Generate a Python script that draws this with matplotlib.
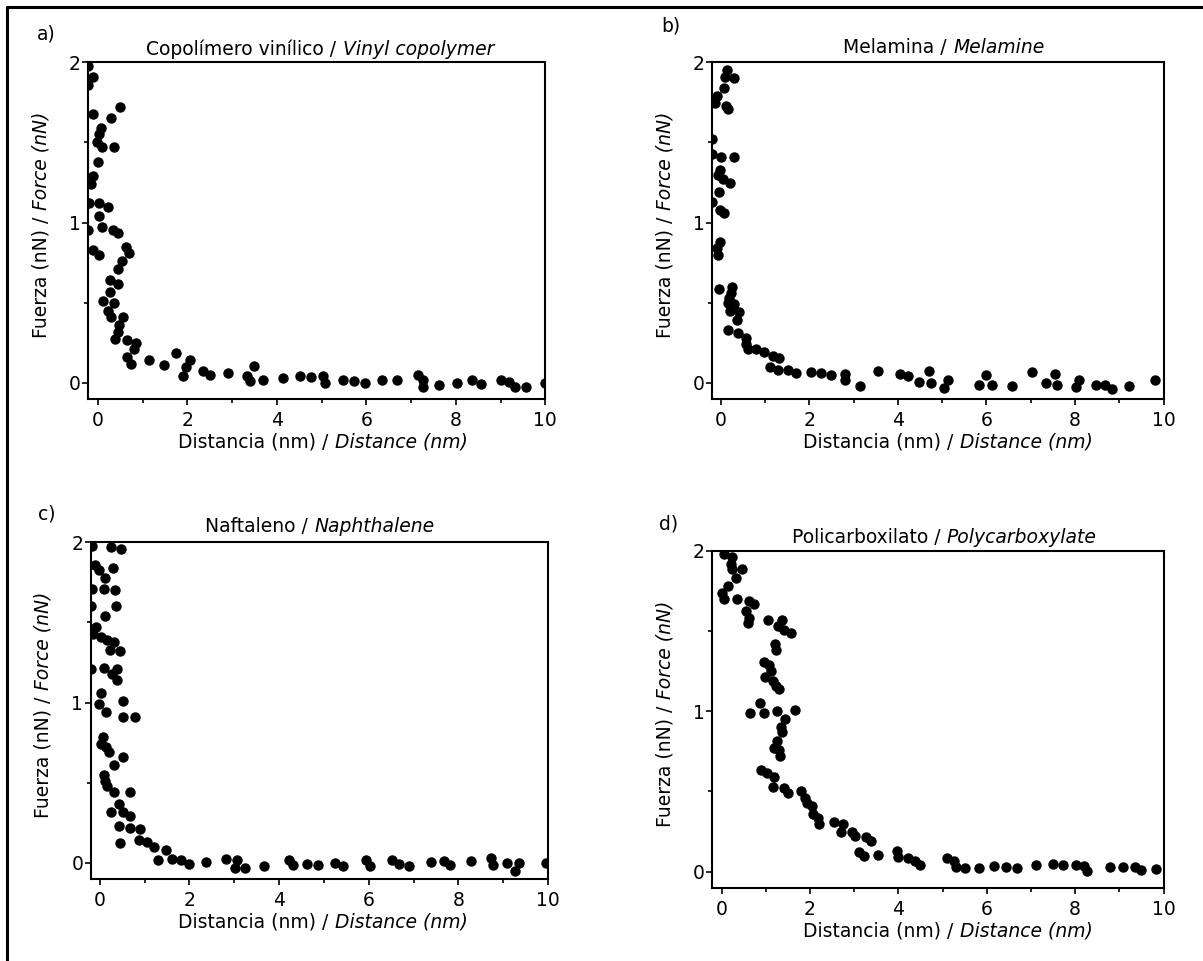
import matplotlib
matplotlib.use("Agg")
import matplotlib.pyplot as plt
from matplotlib.font_manager import FontProperties
from matplotlib.lines import Line2D
from matplotlib.ticker import MultipleLocator

W, H = 1203, 961
FONT_SIZE = 13.5

plt.rcParams["font.family"] = ["DejaVu Sans"]
plt.rcParams["font.size"] = FONT_SIZE

# a) Copolímero vinílico / Vinyl copolymer
vinyl_x = [-0.22, -0.22, -0.11, -0.10, 0.29, 0.49, 0.06, 0.02, -0.03, 0.10,
           0.36, 0.0, -0.11, -0.16, -0.20, 0.03, 0.23, 0.03, 0.10, -0.22,
           0.33, 0.44, 0.63, 0.69, -0.11, 0.02, 0.55, 0.46, 0.27, 0.44,
           0.12, 0.35, 0.27, 0.23, 0.29, 0.57, 0.48, 0.46, 0.38, 0.65,
           0.85, 0.80, 0.66, 0.74, 1.15, 1.47, 1.74, 2.07, 1.98, 1.90,
           2.34, 2.50, 2.90, 3.33, 3.50, 3.41, 3.70, 4.14, 4.51, 4.76,
           5.04, 5.08, 5.47, 5.72, 5.96, 6.34, 6.69, 7.16, 7.26, 7.26,
           7.63, 8.02, 8.37, 8.57, 9.0, 9.19, 9.33, 9.57, 10.0]
vinyl_y = [1.98, 1.86, 1.91, 1.675, 1.65, 1.72, 1.59, 1.55, 1.50, 1.47,
           1.47, 1.375, 1.29, 1.24, 1.125, 1.12, 1.10, 1.04, 0.97, 0.956,
           0.956, 0.935, 0.85, 0.81, 0.83, 0.80, 0.76, 0.71, 0.64, 0.62,
           0.51, 0.50, 0.57, 0.45, 0.41, 0.41, 0.36, 0.32, 0.275, 0.27,
           0.25, 0.21, 0.16, 0.12, 0.14, 0.11, 0.185, 0.14, 0.10, 0.046,
           0.077, 0.05, 0.06, 0.046, 0.104, 0.01, 0.015, 0.03, 0.04, 0.035,
           0.04, 0.0, 0.02, 0.01, 0.0, 0.015, 0.02, 0.05, 0.02, -0.027,
           -0.012, 0.0, 0.015, -0.006, 0.015, 0.008, -0.023, -0.027, 0.0]

# b) Melamina / Melamine
melamine_x = [0.14, 0.10, 0.30, 0.07, -0.08, -0.14, 0.12, 0.17, -0.19, -0.19,
              0.01, 0.30, -0.02, -0.05, 0.05, 0.20, -0.03, -0.19, -0.02, 0.07,
              -0.02, -0.08, -0.05, -0.03, 0.25, 0.23, 0.18, 0.16, 0.30, 0.21,
              0.42, 0.36, 0.16, 0.38, 0.56, 0.57, 0.62, 0.79, 0.97, 1.17,
              1.31, 1.12, 1.29, 1.53, 1.71, 2.04, 2.27, 2.49, 2.81, 2.81,
              3.14, 3.55, 4.04, 4.23, 4.47, 4.71, 4.75, 5.04, 5.13, 5.84,
              6.0, 6.13, 6.58, 7.04, 7.35, 7.55, 7.6, 8.02, 8.10, 8.47,
              8.69, 8.83, 9.23, 9.80]
melamine_y = [1.95, 1.91, 1.90, 1.84, 1.79, 1.745, 1.73, 1.71, 1.52, 1.43,
              1.41, 1.41, 1.33, 1.30, 1.27, 1.25, 1.19, 1.13, 1.08, 1.06,
              0.876, 0.84, 0.80, 0.586, 0.60, 0.56, 0.53, 0.50, 0.49, 0.45,
              0.44, 0.39, 0.33, 0.31, 0.28, 0.24, 0.21, 0.21, 0.19, 0.17,
              0.156, 0.10, 0.08, 0.08, 0.06, 0.066, 0.06, 0.05, 0.056, 0.02,
              -0.017, 0.073, 0.058, 0.046, 0.004, 0.073, 0.0, -0.03, 0.017, -0.01,
              0.048, -0.015, -0.02, 0.066, 0.0, 0.058, -0.01, -0.025, 0.02, -0.01,
              -0.015, -0.035, -0.02, 0.015]

# c) Naftaleno / Naphthalene
naphthalene_x = [-0.17, 0.26, 0.47, -0.10, -0.02, 0.30, 0.13, -0.17, 0.09, 0.34,
                 -0.20, 0.36, 0.11, -0.085, -0.15, 0.02, 0.17, 0.32, 0.24, 0.45,
                 -0.20, 0.10, 0.38, 0.27, 0.38, 0.02, -0.02, 0.15, 0.53, 0.53,
                 0.79, 0.07, 0.04, 0.15, 0.21, 0.32, 0.51, 0.10, 0.13, 0.17,
                 0.32, 0.68, 0.44, 0.51, 0.68, 0.26, 0.43, 0.67, 0.91, 0.45,
                 0.87, 1.05, 1.22, 1.30, 1.47, 1.62, 1.82, 1.99, 2.38, 2.82,
                 3.06, 3.01, 3.25, 3.66, 4.23, 4.32, 4.63, 4.87, 5.24, 5.43,
                 5.94, 6.04, 6.52, 6.67, 6.91, 7.39, 7.68, 7.82, 8.29, 8.73,
                 8.77, 9.08, 9.27, 9.36, 9.96]
naphthalene_y = [1.98, 1.97, 1.96, 1.86, 1.83, 1.84, 1.78, 1.71, 1.71, 1.70,
                 1.60, 1.60, 1.54, 1.47, 1.43, 1.41, 1.39, 1.38, 1.33, 1.32,
                 1.21, 1.215, 1.21, 1.18, 1.14, 1.06, 0.99, 0.94, 1.01, 0.91,
                 0.91, 0.785, 0.74, 0.72, 0.69, 0.61, 0.66, 0.55, 0.51, 0.48,
                 0.44, 0.44, 0.37, 0.32, 0.295, 0.32, 0.23, 0.22, 0.21, 0.125,
                 0.145, 0.13, 0.10, 0.02, 0.08, 0.027, 0.017, -0.004, 0.004, 0.025,
                 0.02, -0.03, -0.03, -0.017, 0.02, -0.015, -0.006, -0.015, 0.0, -0.02,
                 0.017, -0.017, 0.017, -0.006, -0.017, 0.006, 0.01, -0.015, 0.01, 0.03,
                 -0.01, 0.0, -0.05, 0.0, 0.0]

# d) Policarboxilato / Polycarboxylate
polycarb_x = [0.05, 0.24, 0.21, 0.24, 0.47, 0.32, 0.15, 0.02, 0.05, 0.34,
              0.62, 0.73, 0.56, 0.62, 0.60, 1.06, 1.37, 1.27, 1.41, 1.56,
              1.21, 1.24, 0.95, 1.08, 1.11, 0.98, 1.17, 1.23, 1.30, 0.88,
              0.65, 0.95, 1.26, 1.67, 1.43, 1.34, 1.37, 1.26, 1.19, 1.30,
              1.32, 0.89, 1.03, 1.19, 1.17, 1.41, 1.50, 1.80, 1.88, 1.93,
              2.04, 2.08, 2.19, 2.20, 2.55, 2.75, 2.71, 2.96, 3.02, 3.26,
              3.39, 3.10, 3.22, 3.54, 3.98, 4.00, 4.22, 4.38, 4.48, 5.11,
              5.27, 5.31, 5.51, 5.83, 6.16, 6.43, 6.68, 7.12, 7.51, 7.72,
              8.01, 8.21, 8.27, 8.78, 9.08, 9.35, 9.49, 9.83]
polycarb_y = [1.98, 1.96, 1.92, 1.885, 1.89, 1.83, 1.78, 1.735, 1.70, 1.70,
              1.69, 1.67, 1.625, 1.585, 1.55, 1.57, 1.57, 1.53, 1.51, 1.49,
              1.42, 1.38, 1.31, 1.29, 1.25, 1.215, 1.19, 1.16, 1.14, 1.05,
              0.99, 0.99, 1.0, 1.006, 0.95, 0.90, 0.87, 0.815, 0.77, 0.76,
              0.72, 0.635, 0.615, 0.59, 0.53, 0.52, 0.49, 0.50, 0.46, 0.43,
              0.41, 0.36, 0.335, 0.30, 0.31, 0.30, 0.25, 0.25, 0.22, 0.215,
              0.19, 0.125, 0.10, 0.104, 0.127, 0.09, 0.083, 0.069, 0.042, 0.083,
              0.069, 0.031, 0.023, 0.023, 0.033, 0.027, 0.023, 0.042, 0.048, 0.042,
              0.044, 0.038, 0.002, 0.027, 0.031, 0.027, 0.010, 0.017]

letters = ["a)", "b)", "c)", "d)"]
titles = [("Copolímero vinílico /", "Vinyl copolymer"),
          ("Melamina /", "Melamine"),
          ("Naftaleno /", "Naphthalene"),
          ("Policarboxilato /", "Polycarboxylate")]
series = [(vinyl_x, vinyl_y), (melamine_x, melamine_y),
          (naphthalene_x, naphthalene_y), (polycarb_x, polycarb_y)]

# pixel layout of each panel: left, right, top of the box, xmin
boxes = [(88.0, 545.3, 62.3, -0.22),
         (712.3, 1163.5, 62.3, -0.19),
         (90.7, 548.0, 542.3, -0.2),
         (712.3, 1163.5, 551.0, -0.21)]
PX_PER_NN = 160.3
# text anchors (pixels from top-left): letter, title centre/baseline, xlabel centre
letter_pos = [(37, 39), (661, 32), (38, 519), (659, 529)]
title_pos = [(320, 55), (944, 53), (320, 532), (944, 543)]
xlabel_cx = [323, 948, 323, 948]


def draw_parts(fig, x, y, parts, rotation=0):
    # upright + italic text run centred on x (horizontal) or y (rotated)
    renderer = fig.canvas.get_renderer()
    gap = 0.34 * FONT_SIZE * fig.dpi / 72
    lengths = []
    for s, style in parts:
        prop = FontProperties(family="DejaVu Sans", style=style, size=FONT_SIZE)
        w, _, _ = renderer.get_text_width_height_descent(s, prop, ismath=False)
        lengths.append(w)
    total = sum(lengths) + gap * (len(parts) - 1)
    pos = -total / 2
    for (s, style), w in zip(parts, lengths):
        if rotation == 0:
            px, py = x + pos, H - y
        else:
            px, py = x, (H - y) + pos
        fig.text(px / W, py / H, s, style=style, size=FONT_SIZE, ha="left",
                 va="baseline", rotation=rotation, rotation_mode="anchor")
        pos += w + gap


fig = plt.figure(figsize=(W / 100, H / 100), dpi=100)

for k, (xs, ys) in enumerate(series):
    left, right, top, xmin = boxes[k]
    bottom = top + 2.1 * PX_PER_NN
    ax = fig.add_axes([left / W, (H - bottom) / H, (right - left) / W, (bottom - top) / H])
    ax.plot(xs, ys, "o", color="black", markersize=7.5, markeredgewidth=0)
    ax.set_xlim(xmin, 10)
    ax.set_ylim(-0.1, 2.0)
    ax.xaxis.set_major_locator(MultipleLocator(2))
    ax.xaxis.set_minor_locator(MultipleLocator(1))
    ax.yaxis.set_major_locator(MultipleLocator(1))
    ax.yaxis.set_minor_locator(MultipleLocator(0.5))
    ax.tick_params(which="both", direction="out", width=1.2, labelsize=FONT_SIZE)
    ax.tick_params(which="major", length=4.3)
    ax.tick_params(which="minor", length=2.8)
    ax.tick_params(axis="x", pad=4.5)
    ax.tick_params(axis="y", pad=1.0)
    for sp in ax.spines.values():
        sp.set_linewidth(1.5)

    fig.text(letter_pos[k][0] / W, 1 - letter_pos[k][1] / H, letters[k],
             size=FONT_SIZE, ha="left", va="baseline")
    draw_parts(fig, title_pos[k][0], title_pos[k][1],
               [(titles[k][0], "normal"), (titles[k][1], "italic")])
    draw_parts(fig, xlabel_cx[k], bottom + 48.5,
               [("Distancia (nm) /", "normal"), ("Distance (nm)", "italic")])
    draw_parts(fig, left - 42, (top + bottom) / 2 - 5.5,
               [("Fuerza (nN) /", "normal"), ("Force (nN)", "italic")], rotation=90)

# outer frame (only the top and left edges are visible)
fig.add_artist(Line2D([6.5 / W, 6.5 / W, 1.0], [0.0, 1 - 6.5 / H, 1 - 6.5 / H],
                      transform=fig.transFigure, color="black", linewidth=2.2))

fig.savefig("out.png", dpi=100)
